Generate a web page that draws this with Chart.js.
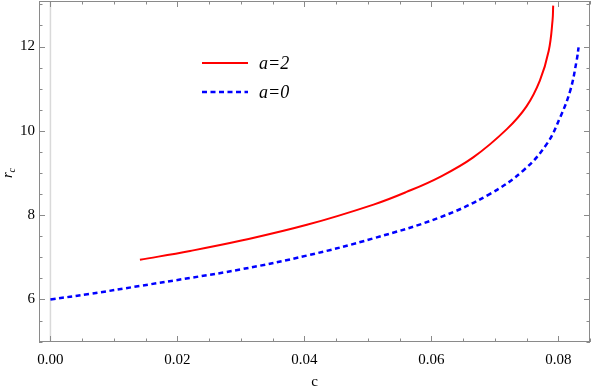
<!DOCTYPE html>
<html>
<head>
<meta charset="utf-8">
<script src="https://cdn.jsdelivr.net/npm/chart.js@4.4.1/dist/chart.umd.min.js"></script>
<style>
  html, body { margin: 0; padding: 0; background: #fff; }
  #wrap { width: 591px; height: 391px; }
</style>
</head>
<body>
<div id="wrap"><canvas id="myChart"></canvas></div>
<script>
// данные
const seriesLabels = ['a=2', 'a=0'];
const cRed  = [0.0141, 0.022, 0.0299, 0.0404, 0.0509, 0.0561, 0.0614, 0.0666, 0.0719, 0.075, 0.0771, 0.0785, 0.0791, 0.0792];
const rRed  = [6.94,   7.15,  7.39,   7.77,   8.25,   8.55,   8.91,   9.37,   10.04,  10.58, 11.19,  11.90,  12.62,  12.97];
const cBlue = [0,    0.0062, 0.0141, 0.022, 0.0299, 0.0404, 0.0509, 0.0614, 0.0692, 0.0745, 0.0782, 0.0803, 0.0819, 0.0829, 0.0832];
const rBlue = [6.0,  6.13,   6.32,   6.51,  6.71,   7.04,   7.45,   7.95,   8.50,   9.06,   9.69,   10.32,  10.96,  11.67,  11.98];
const xTicks = [0, 0.02, 0.04, 0.06, 0.08];
const yTicks = [6, 8, 10, 12];
const xTitle = 'c';

const serif = '"Liberation Serif", "DejaVu Serif", serif';
const frameColor = '#8a8a8a';

function toPoints(xs, ys) {
  return xs.map((x, i) => ({ x: x, y: ys[i] }));
}

// рамка, внутренние засечки, линия x=0, легенда и подпись оси y
const framePlugin = {
  id: 'framePlugin',
  beforeDatasetsDraw(chart) {
    const { ctx, chartArea: a, scales } = chart;
    const x0 = scales.x.getPixelForValue(0);
    ctx.save();
    ctx.strokeStyle = '#d9d9d9';
    ctx.lineWidth = 1.5;
    ctx.beginPath();
    ctx.moveTo(x0, a.top);
    ctx.lineTo(x0, a.bottom);
    ctx.stroke();
    ctx.restore();
  },
  afterDraw(chart) {
    const { ctx, chartArea: a, scales } = chart;
    ctx.save();
    ctx.strokeStyle = frameColor;
    ctx.lineWidth = 1;
    ctx.strokeRect(a.left + 0.5, a.top + 0.5, a.right - a.left - 1, a.bottom - a.top - 1);

    ctx.beginPath();
    // засечки по x
    for (let i = 0; i <= 17; i++) {
      const v = i * 0.005;
      const px = Math.round(scales.x.getPixelForValue(v)) + 0.5;
      const len = (i % 4 === 0) ? 6 : 3.5;
      ctx.moveTo(px, a.bottom); ctx.lineTo(px, a.bottom - len);
      ctx.moveTo(px, a.top);    ctx.lineTo(px, a.top + len);
    }
    // засечки по y
    for (let i = 0; i <= 16; i++) {
      const v = 5 + i * 0.5;
      const py = Math.round(scales.y.getPixelForValue(v)) + 0.5;
      const len = (v % 2 === 0) ? 6 : 3.5;
      ctx.moveTo(a.left, py);  ctx.lineTo(a.left + len, py);
      ctx.moveTo(a.right, py); ctx.lineTo(a.right - len, py);
    }
    ctx.stroke();

    // легенда
    const lx = a.left + 163, ly = a.top + 62;
    ctx.lineWidth = 2;
    ctx.strokeStyle = '#ff0000';
    ctx.beginPath(); ctx.moveTo(lx, ly); ctx.lineTo(lx + 46, ly); ctx.stroke();
    ctx.lineWidth = 2.5;
    ctx.strokeStyle = '#0000ff';
    ctx.setLineDash([5, 3.5]);
    ctx.beginPath(); ctx.moveTo(lx, ly + 29); ctx.lineTo(lx + 46, ly + 29); ctx.stroke();
    ctx.setLineDash([]);
    ctx.fillStyle = '#000';
    ctx.font = 'italic 18px ' + serif;
    ctx.textBaseline = 'middle';
    ctx.textAlign = 'left';
    ctx.fillText(seriesLabels[0], lx + 57, ly + 1);
    ctx.fillText(seriesLabels[1], lx + 57, ly + 30);

    // подпись оси y: r с индексом c
    ctx.translate(8, 172);
    ctx.rotate(-Math.PI / 2);
    ctx.font = 'italic 15px ' + serif;
    ctx.textAlign = 'left';
    ctx.fillText('r', -6, 0);
    ctx.font = 'italic 10px ' + serif;
    ctx.fillText('c', -0.5, 4);
    ctx.restore();
  }
};

const ctx = document.getElementById('myChart').getContext('2d');

const myChart = new Chart(ctx, {
  type: 'scatter',
  data: {
    datasets: [{
      label: seriesLabels[0],
      data: toPoints(cRed, rRed),
      showLine: true,
      borderColor: '#ff0000',
      borderWidth: 2,
      pointRadius: 0,
      tension: 0.4
    }, {
      label: seriesLabels[1],
      data: toPoints(cBlue, rBlue),
      showLine: true,
      borderColor: '#0000ff',
      borderWidth: 2.5,
      borderDash: [5, 3.5],
      pointRadius: 0,
      tension: 0.4
    }]
  },
  options: {
    responsive: true,
    maintainAspectRatio: false,
    animation: false,
    layout: { padding: { top: 1, right: 1, left: 0, bottom: 0 } },
    plugins: {
      legend: { display: false },
      tooltip: { enabled: false }
    },
    scales: {
      x: {
        type: 'linear',
        min: -0.0018,
        max: 0.085,
        afterBuildTicks: (scale) => { scale.ticks = xTicks.map(v => ({ value: v })); },
        afterFit: (scale) => {
          scale.height = 49;
          scale.paddingLeft = 0;
          scale.paddingRight = 0;
        },
        grid: { display: false, drawTicks: false },
        border: { display: false },
        ticks: {
          padding: 9,
          color: '#000',
          font: { family: serif, size: 15 },
          callback: (v) => v.toFixed(2),
          maxRotation: 0
        },
        title: {
          display: true,
          text: xTitle,
          color: '#000',
          font: { family: serif, size: 15 },
          padding: { top: 8, bottom: 0 }
        }
      },
      y: {
        type: 'linear',
        min: 4.99,
        max: 13.08,
        afterBuildTicks: (scale) => { scale.ticks = yTicks.map(v => ({ value: v })); },
        afterFit: (scale) => {
          scale.width = 39;
          scale.paddingTop = 0;
          scale.paddingBottom = 0;
        },
        grid: { display: false, drawTicks: false },
        border: { display: false },
        ticks: {
          padding: 4,
          color: '#000',
          font: { family: serif, size: 15 }
        }
      }
    }
  },
  plugins: [framePlugin]
});
</script>
</body>
</html>
